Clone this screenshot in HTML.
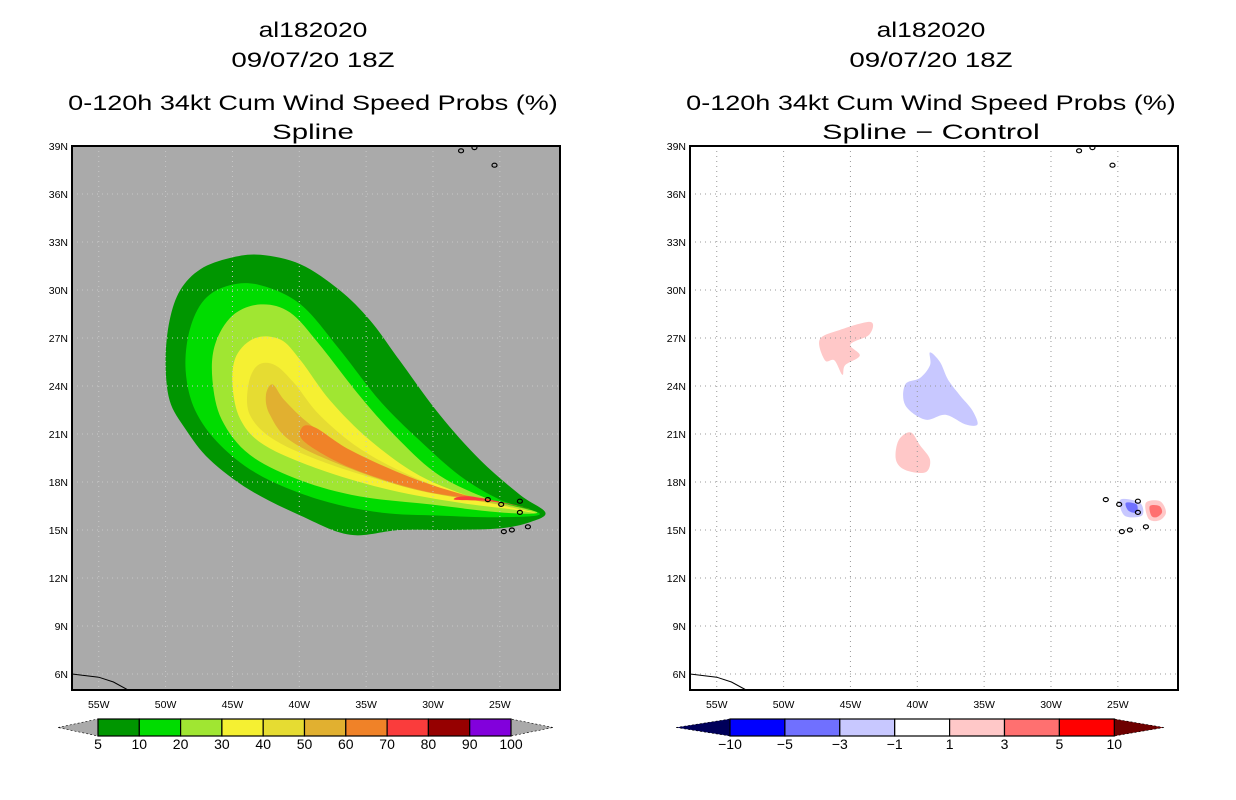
<!DOCTYPE html>
<html><head><meta charset="utf-8"><style>
body{margin:0;background:#fff;}
svg{display:block;font-family:"Liberation Sans",sans-serif;}
</style></head><body>
<svg id="c" width="1236" height="800" xmlns="http://www.w3.org/2000/svg"></svg>
<script>
const lonTicks=[-55,-50,-45,-40,-35,-30,-25];
const latTicks=[6,9,12,15,18,21,24,27,30,33,36,39];
const probLevels=[5,10,20,30,40,50,60,70,80,90,100];
const probColors=["#009600","#00dc00","#a0e632","#f5f032","#e6dc32","#e1b030","#f08228","#fa3c3c","#960000","#8200dc"];
const diffLevels=[-10,-5,-3,-1,1,3,5,10];
const diffColors=["#0000ff","#7070ff","#c8c8ff","#ffffff","#ffc8c8","#ff7070","#ff0000"];
// probability contours (lon, lat)
const c5=[[-21.6,16.1],[-23.5,17.2],[-26.5,19.4],[-29.5,22.2],[-32.5,25.6],[-34.7,28.1],[-37.0,30.0],[-39.9,31.6],[-42.9,32.2],[-45.2,32.0],[-47.4,31.3],[-48.9,30.0],[-49.7,28.1],[-50.0,25.6],[-49.7,23.1],[-48.5,21.3],[-46.7,19.4],[-43.7,17.5],[-39.9,15.9],[-36.2,14.7],[-32.5,15.0],[-28.7,15.0],[-25.0,15.1],[-22.7,15.5]];
const c10=[[-22.0,16.0],[-25.0,16.9],[-28.0,18.4],[-31.0,20.6],[-34.0,23.1],[-37.0,26.3],[-39.9,29.1],[-42.9,30.3],[-45.2,30.3],[-47.1,29.4],[-48.2,27.5],[-48.5,25.0],[-47.8,22.5],[-45.9,20.3],[-42.9,18.4],[-38.5,16.9],[-34.0,16.1],[-29.5,15.9],[-25.0,15.8]];
const c20=[[-22.2,16.1],[-25.7,16.9],[-29.5,18.4],[-32.5,20.6],[-35.5,23.4],[-38.5,26.6],[-40.7,28.6],[-42.9,29.1],[-45.0,28.4],[-46.3,26.6],[-46.5,24.4],[-45.8,21.9],[-43.7,19.7],[-39.9,18.1],[-35.5,17.1],[-30.2,16.6],[-25.0,16.1]];
const c30=[[-22.4,16.1],[-26.5,16.9],[-31.0,18.4],[-34.7,20.6],[-37.7,23.1],[-39.9,25.6],[-41.4,26.9],[-43.3,27.0],[-44.7,25.9],[-45.0,24.1],[-44.4,21.9],[-42.6,20.3],[-38.5,18.8],[-33.2,17.5],[-28.0,16.7],[-24.2,16.3]];
const c40=[[-22.5,16.2],[-27.2,17.0],[-31.7,18.4],[-35.5,20.1],[-38.5,22.2],[-40.3,24.1],[-41.8,25.3],[-43.1,25.3],[-43.8,24.1],[-43.7,22.2],[-41.8,20.6],[-37.7,19.1],[-32.5,17.8],[-27.2,16.9]];
const c50=[[-22.7,16.3],[-27.2,17.0],[-32.5,18.4],[-36.2,19.9],[-39.2,21.6],[-41.1,23.1],[-42.0,24.1],[-42.5,23.4],[-42.2,22.2],[-40.7,20.6],[-37.0,19.1],[-31.7,17.6],[-26.5,16.8]];
const c60=[[-23.0,16.4],[-27.2,17.1],[-31.7,18.3],[-36.2,20.0],[-38.8,21.4],[-39.8,21.4],[-39.6,20.5],[-36.2,18.9],[-31.0,17.5],[-26.5,16.9]];
const c70=[[-23.5,16.5],[-27.2,17.1],[-28.4,16.9],[-25.7,16.8]];
const probContours=[c5,c10,c20,c30,c40,c50,c60,c70];
// difference blobs
const dNeg3a=[[-39.05,26.1],[-38.3,25.5],[-37.7,24.4],[-36.8,23.4],[-35.9,22.5],[-35.5,21.6],[-36.4,21.6],[-37.9,22.2],[-39.4,21.9],[-40.9,22.8],[-40.9,24.1],[-39.8,24.5],[-39.05,25.3]];
const dPos1a=[[-47.3,26.9],[-45.8,27.5],[-43.5,28.0],[-43.6,27.2],[-45.0,26.6],[-44.3,25.9],[-45.4,25.3],[-45.6,24.7],[-46.2,25.6],[-46.9,25.6]];
const dPos1b=[[-41.4,20.6],[-40.5,21.1],[-39.8,20.3],[-39.05,19.4],[-39.4,18.6],[-40.9,18.75],[-41.6,19.4]];
const dNeg3b=[[-24.8,16.9],[-23.35,16.7],[-23.2,15.9],[-24.5,15.9]];
const dNeg5b=[[-24.4,16.7],[-23.6,16.6],[-23.6,16.1],[-24.2,16.2]];
const dPos1c=[[-22.9,16.7],[-21.85,16.8],[-21.4,16.1],[-21.9,15.6],[-22.7,15.7]];
const dPos3c=[[-22.6,16.5],[-21.9,16.5],[-21.7,16.1],[-22.1,15.8],[-22.5,15.9]];
const diffBlobs=[[dPos1a,"#ffc8c8"],[dPos1b,"#ffc8c8"],[dNeg3a,"#c8c8ff"],[dNeg3b,"#c8c8ff"],[dNeg5b,"#7070ff"],[dPos1c,"#ffc8c8"],[dPos3c,"#ff7070"]];
const coast=[[-57,6.0],[-55,5.8],[-53.9,5.5],[-52.8,5.0]];
const islands=[[-25.9,16.9],[-24.9,16.6],[-23.5,16.8],[-23.5,16.1],[-24.7,14.9],[-24.1,15.0],[-22.9,15.2],[-27.9,38.7],[-26.9,38.9],[-25.4,37.8]];

const NS="http://www.w3.org/2000/svg";
const svg=document.getElementById("c");
function mk(t,a,p){const e=document.createElementNS(NS,t);for(const k in a)e.setAttribute(k,a[k]);(p||svg).appendChild(e);return e;}
function smooth(P){const n=P.length;let d="M"+P[0][0].toFixed(1)+","+P[0][1].toFixed(1);
  for(let i=0;i<n;i++){const p0=P[(i-1+n)%n],p1=P[i],p2=P[(i+1)%n],p3=P[(i+2)%n];
    const c1=[p1[0]+(p2[0]-p0[0])/6,p1[1]+(p2[1]-p0[1])/6],c2=[p2[0]-(p3[0]-p1[0])/6,p2[1]-(p3[1]-p1[1])/6];
    d+=" C"+c1[0].toFixed(1)+","+c1[1].toFixed(1)+" "+c2[0].toFixed(1)+","+c2[1].toFixed(1)+" "+p2[0].toFixed(1)+","+p2[1].toFixed(1);}
  return d+"Z";}
const lon0=-57,lon1=-20.5,lat0=5,lat1=39;
function panel(px,title2,isDiff){
  const W=488,H=544,py=146;
  const X=lon=>px+(lon-lon0)/(lon1-lon0)*W;
  const Y=lat=>py+(lat1-lat)/(lat1-lat0)*H;
  const g=mk("g",{});
  
  
  const t=[["al182020",30],["09/07/20 18Z",60],["0-120h 34kt Cum Wind Speed Probs (%)",103],[title2,132]];
  const cx=px+W/2-3;
  t.forEach((s,i)=>{const e=mk("text",{x:cx,y:s[1]+7,"text-anchor":"middle","font-size":"21","textLength":s[0].length*13.6,"lengthAdjust":"spacingAndGlyphs",fill:"#000"},g);e.textContent=s[0];
    
    });
  mk("rect",{x:px,y:py,width:W,height:H,fill:isDiff?"#fff":"#aaaaaa"},g);
  const sp=poly=>smooth(poly.map(p=>[X(p[0]),Y(p[1])]));
  if(!isDiff){
    probContours.forEach((c,i)=>{const e=mk("path",{d:sp(c),fill:probColors[i]},g);
      
      });
  } else {
    diffBlobs.forEach(b=>{const e=mk("path",{d:sp(b[0]),fill:b[1]},g);
      
      });
  }
  const gc=isDiff?"#999":"#c8c8c8";
  lonTicks.forEach(l=>{mk("line",{x1:X(l),x2:X(l),y1:py,y2:py+H,stroke:gc,"stroke-dasharray":"1,4"},g);
    const e=mk("text",{x:X(l),y:py+H+18,"text-anchor":"middle","font-size":"10.5",fill:"#000"},g);e.textContent=(-l)+"W";
    });
  latTicks.forEach(l=>{mk("line",{x1:px,x2:px+W,y1:Y(l),y2:Y(l),stroke:gc,"stroke-dasharray":"1,4"},g);
    const e=mk("text",{x:px-4,y:Y(l)+4,"text-anchor":"end","font-size":"10.5",fill:"#000"},g);e.textContent=l+"N";
    });
  mk("polyline",{points:coast.map(p=>X(p[0])+","+Y(p[1])).join(" "),fill:"none",stroke:"#000","stroke-width":1},g);
  islands.forEach(p=>mk("ellipse",{cx:X(p[0]),cy:Y(p[1]),rx:2.5,ry:2,fill:"none",stroke:"#000","stroke-width":1.2},g));
  mk("rect",{x:px,y:py,width:W,height:H,fill:"none",stroke:"#000","stroke-width":2},g);
  const cb=mk("g",{},g);
  
  const yb=719,hb=17;
  let levels,cols,bx0,bw,lt,rt,lc,rc;
  if(!isDiff){levels=probLevels;cols=probColors;bx0=98;bw=41.3;lt=58;rt=553;lc="#aaaaaa";rc="#aaaaaa";}
  else{levels=diffLevels;cols=diffColors;bx0=730;bw=54.9;lt=676;rt=1164;lc="#00005a";rc="#6e0000";}
  const bx1=bx0+bw*cols.length;
  mk("polygon",{points:`${lt},${yb+hb/2} ${bx0},${yb} ${bx0},${yb+hb}`,fill:lc,stroke:"#000","stroke-width":0.6,"stroke-dasharray":"2,2"},cb);
  mk("polygon",{points:`${rt},${yb+hb/2} ${bx1},${yb} ${bx1},${yb+hb}`,fill:rc,stroke:"#000","stroke-width":0.6,"stroke-dasharray":"2,2"},cb);
  cols.forEach((c,i)=>mk("rect",{x:bx0+i*bw,y:yb,width:bw,height:hb,fill:c,stroke:"#000","stroke-width":1.2},cb));
  levels.forEach((v,i)=>{const e=mk("text",{x:bx0+i*bw,y:yb+hb+13,"text-anchor":"middle","font-size":"14",fill:"#000"},cb);e.textContent=v<0?"\u2212"+(-v):String(v);});
}
panel(72,"Spline",false);
panel(690,"Spline \u2212 Control",true);
</script>
</body></html>
